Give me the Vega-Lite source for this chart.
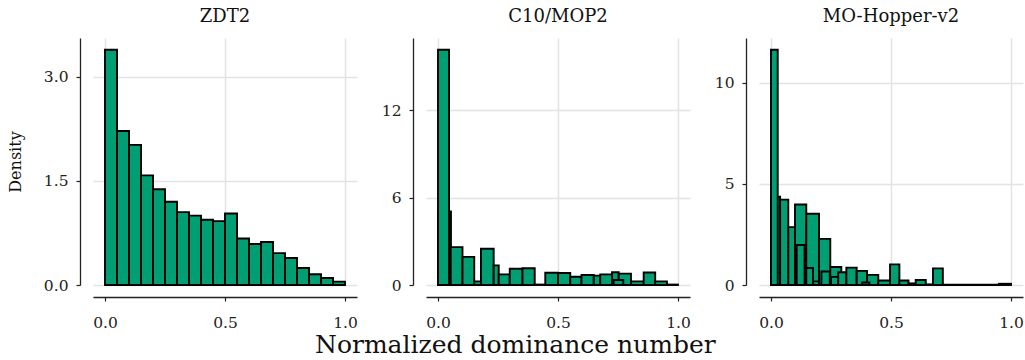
{
  "$schema": "https://vega.github.io/schema/vega-lite/v6.json",
  "padding": {"left": 7, "top": 8, "right": 0, "bottom": 0},
  "background": "white",
  "bounds": "flush",
  "spacing": 69,
  "title": {"text": "Normalized dominance number", "orient": "bottom", "anchor": "middle", "font": "DejaVu Serif", "fontSize": 25, "fontWeight": "normal", "color": "#111", "offset": 2},
  "config": {
    "view": {"stroke": null},
    "axis": {"labelFont": "DejaVu Serif", "labelFontSize": 15.5, "labelColor": "#222", "titleFont": "DejaVu Serif", "titleFontWeight": "normal", "titleColor": "#111", "gridColor": "#e3e3e3", "gridWidth": 1.5, "domainColor": "#222", "domainWidth": 1.3, "tickColor": "#222", "tickSize": 4, "tickWidth": 1.2},
    "title": {"font": "DejaVu Serif", "fontSize": 18, "fontWeight": "normal", "color": "#111", "offset": 12}
  },
  "datasets": {
    "bins": [
      {"panel": "ZDT2", "x0": 0.00, "x1": 0.05, "d": 3.39},
      {"panel": "ZDT2", "x0": 0.05, "x1": 0.10, "d": 2.22},
      {"panel": "ZDT2", "x0": 0.10, "x1": 0.15, "d": 2.02},
      {"panel": "ZDT2", "x0": 0.15, "x1": 0.20, "d": 1.58},
      {"panel": "ZDT2", "x0": 0.20, "x1": 0.25, "d": 1.38},
      {"panel": "ZDT2", "x0": 0.25, "x1": 0.30, "d": 1.20},
      {"panel": "ZDT2", "x0": 0.30, "x1": 0.35, "d": 1.05},
      {"panel": "ZDT2", "x0": 0.35, "x1": 0.40, "d": 1.00},
      {"panel": "ZDT2", "x0": 0.40, "x1": 0.45, "d": 0.94},
      {"panel": "ZDT2", "x0": 0.45, "x1": 0.50, "d": 0.92},
      {"panel": "ZDT2", "x0": 0.50, "x1": 0.55, "d": 1.03},
      {"panel": "ZDT2", "x0": 0.55, "x1": 0.60, "d": 0.67},
      {"panel": "ZDT2", "x0": 0.60, "x1": 0.65, "d": 0.59},
      {"panel": "ZDT2", "x0": 0.65, "x1": 0.70, "d": 0.62},
      {"panel": "ZDT2", "x0": 0.70, "x1": 0.75, "d": 0.46},
      {"panel": "ZDT2", "x0": 0.75, "x1": 0.80, "d": 0.39},
      {"panel": "ZDT2", "x0": 0.80, "x1": 0.85, "d": 0.245},
      {"panel": "ZDT2", "x0": 0.85, "x1": 0.90, "d": 0.154},
      {"panel": "ZDT2", "x0": 0.90, "x1": 0.95, "d": 0.10},
      {"panel": "ZDT2", "x0": 0.95, "x1": 1.00, "d": 0.048},

      {"panel": "C10/MOP2", "x0": 0.000, "x1": 0.054, "d": 5.05},
      {"panel": "C10/MOP2", "x0": 0.000, "x1": 0.046, "d": 16.14},
      {"panel": "C10/MOP2", "x0": 0.053, "x1": 0.102, "d": 2.6},
      {"panel": "C10/MOP2", "x0": 0.102, "x1": 0.151, "d": 1.93},
      {"panel": "C10/MOP2", "x0": 0.151, "x1": 0.179, "d": 0.25},
      {"panel": "C10/MOP2", "x0": 0.179, "x1": 0.232, "d": 2.49},
      {"panel": "C10/MOP2", "x0": 0.232, "x1": 0.253, "d": 1.35},
      {"panel": "C10/MOP2", "x0": 0.253, "x1": 0.299, "d": 0.73},
      {"panel": "C10/MOP2", "x0": 0.299, "x1": 0.352, "d": 1.12},
      {"panel": "C10/MOP2", "x0": 0.352, "x1": 0.403, "d": 1.15},
      {"panel": "C10/MOP2", "x0": 0.403, "x1": 0.447, "d": 0.03},
      {"panel": "C10/MOP2", "x0": 0.447, "x1": 0.500, "d": 0.84},
      {"panel": "C10/MOP2", "x0": 0.500, "x1": 0.551, "d": 0.82},
      {"panel": "C10/MOP2", "x0": 0.551, "x1": 0.598, "d": 0.57},
      {"panel": "C10/MOP2", "x0": 0.598, "x1": 0.649, "d": 0.69},
      {"panel": "C10/MOP2", "x0": 0.649, "x1": 0.676, "d": 0.64},
      {"panel": "C10/MOP2", "x0": 0.676, "x1": 0.725, "d": 0.73},
      {"panel": "C10/MOP2", "x0": 0.725, "x1": 0.753, "d": 0.87},
      {"panel": "C10/MOP2", "x0": 0.753, "x1": 0.804, "d": 0.78},
      {"panel": "C10/MOP2", "x0": 0.732, "x1": 0.772, "d": 0.34},
      {"panel": "C10/MOP2", "x0": 0.804, "x1": 0.857, "d": 0.25},
      {"panel": "C10/MOP2", "x0": 0.857, "x1": 0.905, "d": 0.86},
      {"panel": "C10/MOP2", "x0": 0.905, "x1": 0.954, "d": 0.25},
      {"panel": "C10/MOP2", "x0": 0.954, "x1": 1.000, "d": 0.03},

      {"panel": "MO-Hopper-v2", "x0": 0.000, "x1": 0.038, "d": 4.37},
      {"panel": "MO-Hopper-v2", "x0": 0.000, "x1": 0.028, "d": 11.63},
      {"panel": "MO-Hopper-v2", "x0": 0.038, "x1": 0.072, "d": 4.22},
      {"panel": "MO-Hopper-v2", "x0": 0.072, "x1": 0.100, "d": 2.86},
      {"panel": "MO-Hopper-v2", "x0": 0.100, "x1": 0.147, "d": 3.98},
      {"panel": "MO-Hopper-v2", "x0": 0.107, "x1": 0.140, "d": 1.98},
      {"panel": "MO-Hopper-v2", "x0": 0.147, "x1": 0.200, "d": 3.52},
      {"panel": "MO-Hopper-v2", "x0": 0.147, "x1": 0.175, "d": 0.84},
      {"panel": "MO-Hopper-v2", "x0": 0.175, "x1": 0.200, "d": 0.18},
      {"panel": "MO-Hopper-v2", "x0": 0.200, "x1": 0.247, "d": 2.28},
      {"panel": "MO-Hopper-v2", "x0": 0.210, "x1": 0.245, "d": 0.67},
      {"panel": "MO-Hopper-v2", "x0": 0.247, "x1": 0.293, "d": 0.89},
      {"panel": "MO-Hopper-v2", "x0": 0.250, "x1": 0.280, "d": 0.40},
      {"panel": "MO-Hopper-v2", "x0": 0.280, "x1": 0.314, "d": 0.63},
      {"panel": "MO-Hopper-v2", "x0": 0.314, "x1": 0.357, "d": 0.86},
      {"panel": "MO-Hopper-v2", "x0": 0.357, "x1": 0.400, "d": 0.70},
      {"panel": "MO-Hopper-v2", "x0": 0.400, "x1": 0.447, "d": 0.50},
      {"panel": "MO-Hopper-v2", "x0": 0.380, "x1": 0.410, "d": 0.12},
      {"panel": "MO-Hopper-v2", "x0": 0.447, "x1": 0.496, "d": 0.22},
      {"panel": "MO-Hopper-v2", "x0": 0.496, "x1": 0.535, "d": 1.02},
      {"panel": "MO-Hopper-v2", "x0": 0.535, "x1": 0.573, "d": 0.22},
      {"panel": "MO-Hopper-v2", "x0": 0.573, "x1": 0.603, "d": 0.08},
      {"panel": "MO-Hopper-v2", "x0": 0.603, "x1": 0.645, "d": 0.25},
      {"panel": "MO-Hopper-v2", "x0": 0.645, "x1": 0.675, "d": 0.03},
      {"panel": "MO-Hopper-v2", "x0": 0.675, "x1": 0.716, "d": 0.82},
      {"panel": "MO-Hopper-v2", "x0": 0.716, "x1": 0.950, "d": 0.02},
      {"panel": "MO-Hopper-v2", "x0": 0.950, "x1": 1.000, "d": 0.06}
    ]
  },
  "hconcat": [
    {
      "title": "ZDT2",
      "width": 264, "height": 247,
      "data": {"name": "bins"},
      "transform": [{"filter": "datum.panel === 'ZDT2'"}],
      "mark": {"type": "rect", "fill": "#009E73", "stroke": "#000", "strokeWidth": 1.9},
      "encoding": {
        "x": {"field": "x0", "type": "quantitative", "scale": {"domain": [-0.05, 1.05], "nice": false, "zero": false}, "axis": {"values": [0, 0.5, 1], "format": ".1f", "title": null, "offset": 12, "labelPadding": 14}},
        "x2": {"field": "x1"},
        "y": {"field": "d", "type": "quantitative", "scale": {"domain": [0, 3.56], "nice": false}, "axis": {"values": [0, 1.5, 3], "format": ".1f", "title": "Density", "titleFontSize": 16, "titlePadding": 20, "offset": 13, "labelPadding": 8}},
        "y2": {"datum": 0}
      }
    },
    {
      "title": "C10/MOP2",
      "width": 264, "height": 247,
      "data": {"name": "bins"},
      "transform": [{"filter": "datum.panel === 'C10/MOP2'"}],
      "mark": {"type": "rect", "fill": "#009E73", "stroke": "#000", "strokeWidth": 1.9},
      "encoding": {
        "x": {"field": "x0", "type": "quantitative", "scale": {"domain": [-0.05, 1.05], "nice": false, "zero": false}, "axis": {"values": [0, 0.5, 1], "format": ".1f", "title": null, "offset": 12, "labelPadding": 14}},
        "x2": {"field": "x1"},
        "y": {"field": "d", "type": "quantitative", "scale": {"domain": [0, 16.95], "nice": false}, "axis": {"values": [0, 6, 12], "format": "d", "title": null, "offset": 13, "labelPadding": 8}},
        "y2": {"datum": 0}
      }
    },
    {
      "title": "MO-Hopper-v2",
      "width": 264, "height": 247,
      "data": {"name": "bins"},
      "transform": [{"filter": "datum.panel === 'MO-Hopper-v2'"}],
      "mark": {"type": "rect", "fill": "#009E73", "stroke": "#000", "strokeWidth": 1.9},
      "encoding": {
        "x": {"field": "x0", "type": "quantitative", "scale": {"domain": [-0.05, 1.05], "nice": false, "zero": false}, "axis": {"values": [0, 0.5, 1], "format": ".1f", "title": null, "offset": 12, "labelPadding": 14}},
        "x2": {"field": "x1"},
        "y": {"field": "d", "type": "quantitative", "scale": {"domain": [0, 12.21], "nice": false}, "axis": {"values": [0, 5, 10], "format": "d", "title": null, "offset": 13, "labelPadding": 8}},
        "y2": {"datum": 0}
      }
    }
  ]
}
